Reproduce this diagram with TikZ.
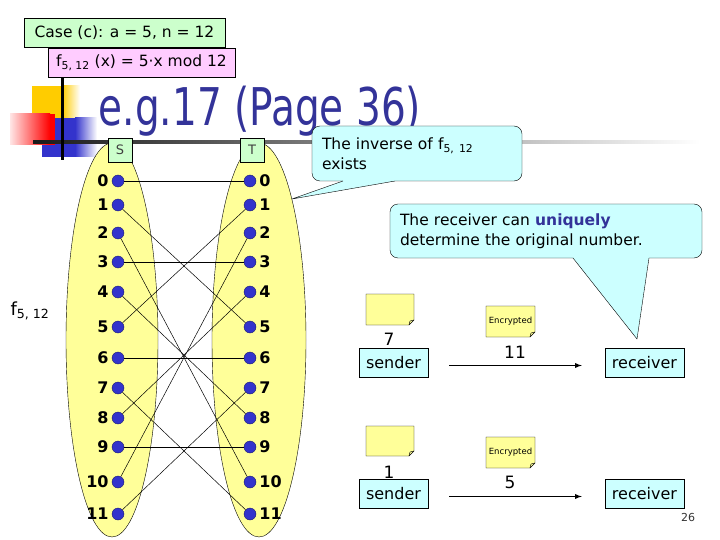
\documentclass[tikz,border=0pt]{standalone}
\usepackage{fontspec}
\setmainfont{DejaVu Sans}
\usetikzlibrary{positioning}

\definecolor{boxgreen}{HTML}{CCFFCC}
\definecolor{boxpink}{HTML}{FFCCFF}
\definecolor{callcyan}{HTML}{CCFFFF}
\definecolor{titleblue}{HTML}{333399}
\definecolor{setyellow}{HTML}{FFFF99}
\definecolor{dotblue}{HTML}{3333CC}
\definecolor{sqyellow}{HTML}{FFCC00}
\definecolor{sqred}{HTML}{FF0000}

\tikzset{
  casebox/.style={rectangle, draw, inner sep=0pt, font=\fontsize{15.5}{18}\selectfont},
  setlbl/.style={rectangle, draw, fill=boxgreen, minimum size=24pt, inner sep=0pt, text=black!75, font=\fontsize{13}{15}\selectfont},
  elt/.style={circle, draw=dotblue!55!black, fill=dotblue, minimum size=12pt, inner sep=0pt},
  num/.style={inner sep=1pt, font=\fontsize{16}{18}\selectfont\bfseries},
  callout/.style={rectangle, rounded corners=8pt, draw, fill=callcyan, align=left, inner xsep=10pt, inner ysep=0pt, font=\fontsize{15.5}{20}\selectfont},
  party/.style={rectangle, draw, fill=callcyan, inner sep=0pt, minimum height=29pt, font=\fontsize{16}{18}\selectfont},
  sticky/.style={draw, fill=setyellow, line width=0.4pt},
  plain/.style={inner sep=0pt, font=\fontsize{17}{19}\selectfont},
}

\begin{document}
\begin{tikzpicture}[x=1pt, y=-1pt]
  \useasboundingbox (0,0) rectangle (720,540);
  % corner squares
  \fill[sqyellow] (32,86) rectangle (62,118);
  \shade[left color=sqyellow, right color=white] (62,86) rectangle (80,118);
  \fill[dotblue] (42,118) rectangle (75,157);
  \shade[left color=dotblue, right color=white] (75,118) rectangle (97,157);
  \shade[left color=sqred!10, right color=sqred] (10,114) rectangle (50,145);
  \fill[sqred] (50,114) rectangle (55,145);
  \shade[left color=black!90, right color=white] (33,140.5) rectangle (700,143.5);
  \draw[line width=3pt] (62,77) -- (62,160);

  \node[casebox, fill=boxgreen, minimum width=201pt, minimum height=29pt] (case) at (124.5,32.5) {Case (c): a = 5, n = 12};
  \node[casebox, fill=boxpink, minimum width=187pt, minimum height=29pt] (func) at (141.5,62.5) {f\textsubscript{5, 12} (x) = 5·x mod 12};
  \node[anchor=base, text=titleblue, font=\fontsize{52}{60}\selectfont] (title) at (260,126) {\scalebox{0.75}[1]{e.g.17 (Page 36)}};

  % the two sets
  \draw[fill=setyellow] (112,340) ellipse (46 and 197);
  \draw[fill=setyellow] (259,340) ellipse (47 and 197);
  \node[setlbl] (S) at (120,150) {S};
  \node[setlbl] (T) at (252,150) {T};
  \node[inner sep=0pt, font=\fontsize{18}{20}\selectfont] (fname) at (30,311) {f\textsubscript{5, 12}};

  \foreach \i/\yy in {0/181,1/205,2/233,3/262,4/292,5/327,6/358,7/388,8/418,9/447,10/482,11/514} {
    \node[elt] (s\i) at (118,\yy) {};
    \node[num, left=2pt of s\i] {\i};
    \node[elt] (t\i) at (250,\yy) {};
    \node[num, right=2pt of t\i] {\i};
  }
  \foreach \i in {0,...,11} {
    \pgfmathtruncatemacro\j{mod(5*\i,12)}
    \draw[line width=0.5pt] (s\i) -- (t\j);
  }

  % callouts
  \node[callout, text width=190pt, minimum height=55pt] (inv) at (417,153.5) {The inverse of f\textsubscript{5, 12}\\exists};
  \coordinate (invtip) at (292,199);
  \fill[callcyan] (343,179) -- (343,181) -- (invtip) -- (395,181) -- (395,179) -- cycle;
  \draw (343,181) -- (invtip) -- (395,181);

  \node[callout, text width=292pt, minimum height=54pt] (uniq) at (546,231) {The receiver can \textcolor{titleblue}{\bfseries uniquely}\\determine the original number.};
  \coordinate (uniqtip) at (637,339);
  \fill[callcyan] (573,256) -- (573,258) -- (uniqtip) -- (649,258) -- (649,256) -- cycle;
  \draw (573,258) -- (uniqtip) -- (649,258);

  % notes
  \foreach \xa/\ya/\xb/\yb in {366/294/414/325, 486/306/535/337, 366/426/414/456, 486/437/535/468} {
    \draw[sticky] (\xa,\ya) -- (\xb,\ya) -- (\xb,\yb-5) -- (\xb-5,\yb) -- (\xa,\yb) -- cycle;
    \draw[line width=0.4pt] (\xb,\yb-5) -- (\xb-4,\yb-4) -- (\xb-5,\yb);
  }
  \node[inner sep=0pt, font=\fontsize{8.5}{10}\selectfont] (enc1) at (510.5,321.5) {Encrypted};
  \node[inner sep=0pt, font=\fontsize{8.5}{10}\selectfont] (enc2) at (510.5,452.5) {Encrypted};

  % first message
  \node[party, minimum width=69pt] (snd1) at (393.5,362.5) {sender};
  \node[party, minimum width=79pt] (rcv1) at (644.5,362.5) {receiver};
  \node[plain] (msg1) at (389,339) {7};
  \node[plain] (cip1) at (515,352) {11};
  \draw[->, >=latex, line width=1.3pt, shorten <=21pt, shorten >=23pt] ([yshift=-3pt]snd1.east) -- ([yshift=-3pt]rcv1.west);

  % second message
  \node[party, minimum width=69pt] (snd2) at (393.5,493.5) {sender};
  \node[party, minimum width=79pt] (rcv2) at (644.5,493.5) {receiver};
  \node[plain] (msg2) at (389,472) {1};
  \node[plain] (cip2) at (510,482) {5};
  \draw[->, >=latex, line width=1.3pt, shorten <=21pt, shorten >=23pt] ([yshift=-3pt]snd2.east) -- ([yshift=-3pt]rcv2.west);

  \node[inner sep=0pt, text=black!80, font=\fontsize{11}{13}\selectfont] (page) at (688,517) {26};
\end{tikzpicture}
\end{document}
